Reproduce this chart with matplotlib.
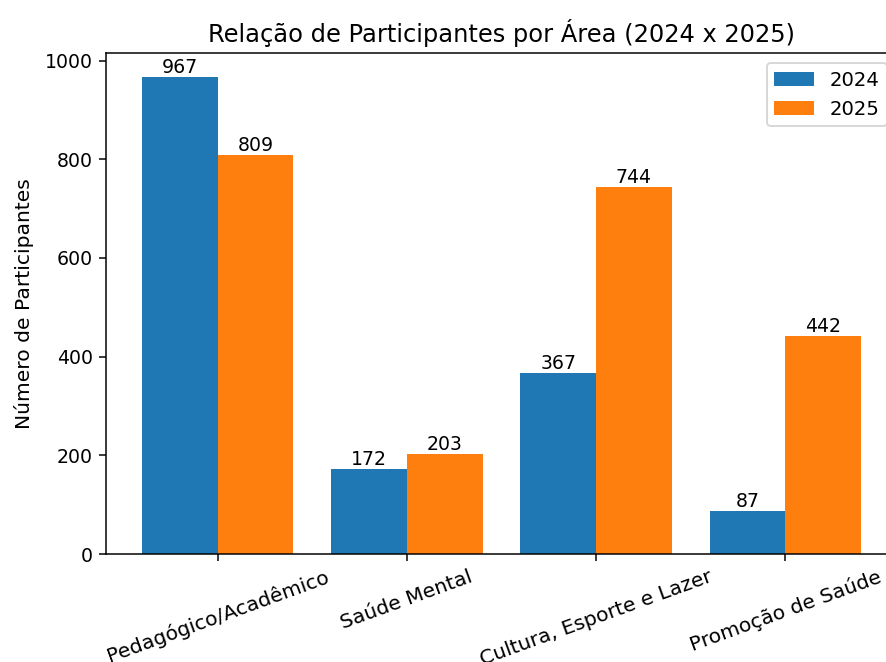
import numpy as np
import matplotlib
matplotlib.use("Agg")
import matplotlib.pyplot as plt

# Data
areas = ["Pedagógico/Acadêmico", "Saúde Mental", "Cultura, Esporte e Lazer", "Promoção de Saúde"]
valores_2024 = [967, 172, 367, 87]
valores_2025 = [809, 203, 744, 442]

dpi = 136
fig = plt.figure(figsize=(886 / dpi, 662 / dpi), dpi=dpi)
# axes runs a little past the right edge (reference image is cropped there)
ax = fig.add_axes([106 / 886, 1 - 554 / 662, (897 - 106) / 886, (554 - 53) / 662])

x = np.arange(len(areas))
width = 0.4
bars1 = ax.bar(x - width / 2, valores_2024, width, label="2024", color="#1f77b4")
bars2 = ax.bar(x + width / 2, valores_2025, width, label="2025", color="#ff7f0e")

ax.bar_label(bars1)
ax.bar_label(bars2)

ax.set_title("Relação de Participantes por Área (2024 x 2025)", fontsize=12.8)
ax.set_ylabel("Número de Participantes", fontsize=10.7, labelpad=5.5)
ax.set_xticks(x)
ax.set_xticklabels(areas, rotation=20, fontsize=10.7)
ax.set_yticks([0, 200, 400, 600, 800, 1000])
ax.legend(loc="upper right", fontsize=10.4)

fig.savefig("out.png", dpi=dpi)
